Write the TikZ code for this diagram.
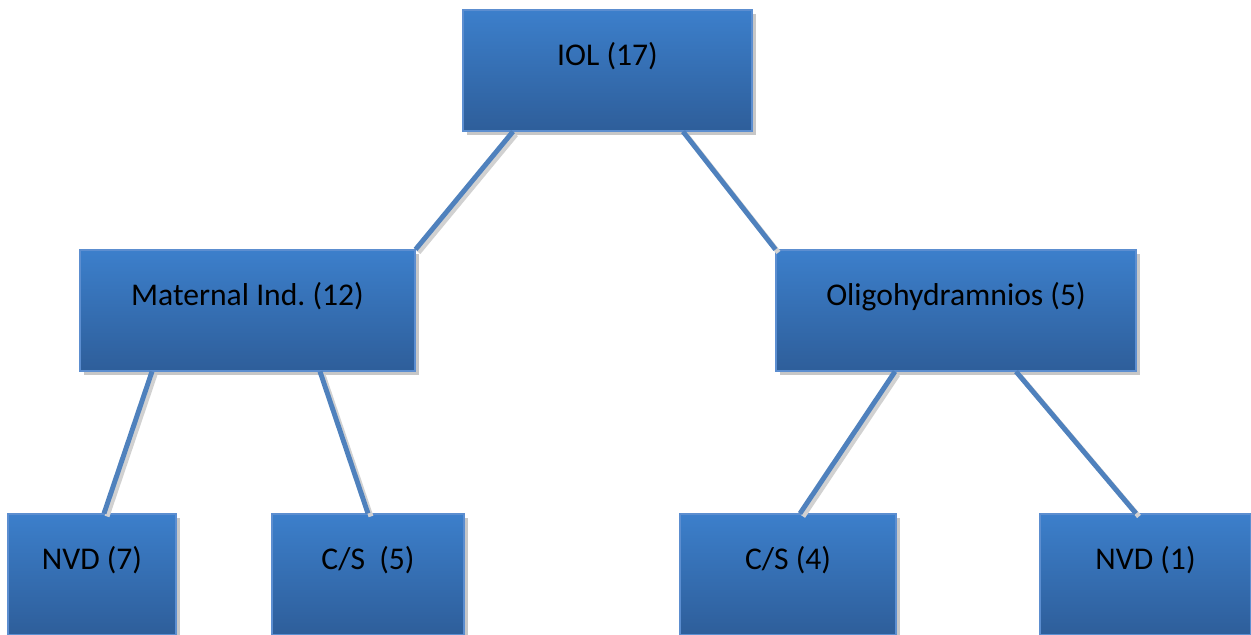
\documentclass[tikz,border=0pt]{standalone}
\usepackage{fontspec}
\setmainfont{Carlito}
\usetikzlibrary{shadows,positioning}

\definecolor{boxtop}{RGB}{60,127,203}
\definecolor{boxbot}{RGB}{46,94,154}
\definecolor{boxline}{RGB}{92,142,208}
\definecolor{linkblue}{RGB}{79,129,189}

\begin{document}
\begin{tikzpicture}[
  box/.style={rectangle, draw=boxline, line width=0.6pt, top color=boxtop, bottom color=boxbot,
    inner sep=0pt, text height=1.1cm, text depth=1.32cm, align=center,
    font=\fontsize{18}{22}\selectfont,
    drop shadow={shadow xshift=0.07cm, shadow yshift=-0.07cm, fill=black!22, opacity=1}},
  link/.style={draw=linkblue, line width=2.8pt,
    preaction={draw=black!18, line width=2.8pt, transform canvas={shift={(0.06,-0.06)}}}}
]
\useasboundingbox (0,0) rectangle (25.02,-12.7);

\node[box, minimum width=5.78cm] (iol) at (12.15,-1.41) {IOL (17)};
\node[box, minimum width=6.7cm] (mat) at (4.95,-6.21) {Maternal Ind.\ (12)};
\node[box, minimum width=7.2cm] (oli) at (19.12,-6.21) {Oligohydramnios (5)};
\node[box, minimum width=3.36cm] (nvdA) at (1.84,-11.49) {NVD (7)};
\node[box, minimum width=3.84cm] (csA) at (7.36,-11.49) {C/S~~(5)};
\node[box, minimum width=4.32cm] (csB) at (15.76,-11.49) {C/S (4)};
\node[box, minimum width=4.22cm] (nvdB) at (22.91,-11.49) {NVD (1)};

\draw[link] ([xshift=-1.89cm]iol.south) -- (mat.north east);
\draw[link] ([xshift=1.51cm]iol.south) -- (oli.north west);
\draw[link] ([xshift=-1.91cm]mat.south) -- ([xshift=0.24cm]nvdA.north);
\draw[link] ([xshift=1.45cm]mat.south) -- (csA.north);
\draw[link] ([xshift=-1.22cm]oli.south) -- ([xshift=0.24cm]csB.north);
\draw[link] ([xshift=1.2cm]oli.south) -- ([xshift=-0.19cm]nvdB.north);

\end{tikzpicture}
\end{document}
